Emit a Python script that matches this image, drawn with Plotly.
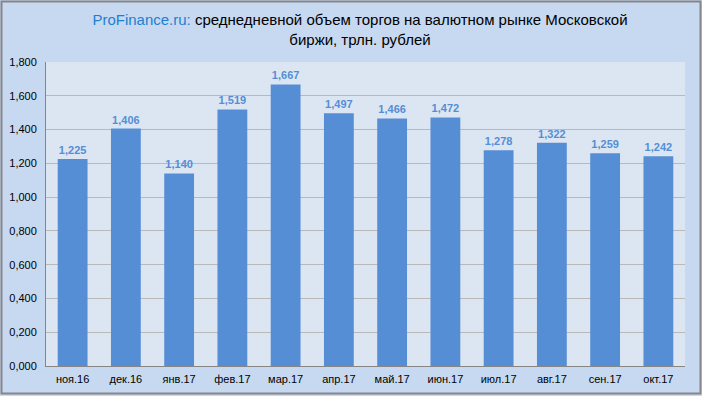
import plotly.graph_objects as go

months = ["ноя.16", "дек.16", "янв.17", "фев.17", "мар.17", "апр.17",
          "май.17", "июн.17", "июл.17", "авг.17", "сен.17", "окт.17"]
volumes = [1225, 1406, 1140, 1519, 1667, 1497, 1466, 1472, 1278, 1322, 1259, 1242]
tick_vals = [0, 200, 400, 600, 800, 1000, 1200, 1400, 1600, 1800]
tick_text = ["0,000", "0,200", "0,400", "0,600", "0,800", "1,000", "1,200", "1,400", "1,600", "1,800"]
labels = ["<b>{:,}</b>".format(v) for v in volumes]

W, H = 702, 396
L, R, T, B = 46, 17, 62, 30
pw, ph = W - L - R, H - T - B

fig = go.Figure(go.Bar(
    x=months, y=volumes, text=labels, textposition="outside",
    textfont=dict(color="#558ed5", size=11, family="Liberation Sans, Arial"),
    marker=dict(color="#558ed5", line=dict(width=0)),
    cliponaxis=False, width=0.56,
))

def px_x(p):
    return (p - L) / pw

def px_y(p):
    return (H - B - p) / ph

fig.update_layout(
    width=W, height=H,
    margin=dict(l=L, r=R, t=T, b=B, pad=0, autoexpand=False),
    paper_bgcolor="#c6d9f0",
    plot_bgcolor="#dce6f2",
    font=dict(family="Liberation Sans, Arial", size=11, color="#000000"),
    showlegend=False,
    title=dict(
        text="<span style='color:#1f7fd0'>ProFinance.ru:</span> среднедневной объем торгов на валютном рынке Московской<br>биржи, трлн. рублей",
        x=(360) / W, xanchor="center", y=1 - 25 / H, yanchor="middle",
        font=dict(size=15, family="Liberation Sans, Arial", color="#000000"),
    ),
    xaxis=dict(showgrid=False, showline=True, linecolor="#868686", linewidth=1,
               ticks="", tickfont=dict(size=11), ticklabelstandoff=3,
               automargin=False, fixedrange=True),
    yaxis=dict(range=[0, 1800], tickvals=tick_vals, ticktext=tick_text,
               showgrid=True, gridcolor="#b9b9b9", gridwidth=1,
               showline=True, linecolor="#868686", linewidth=1,
               zeroline=False, ticks="", tickfont=dict(size=11), ticklabelstandoff=6,
               automargin=False),
    shapes=[dict(type="rect", xref="paper", yref="paper",
                 x0=px_x(1.5), x1=px_x(700.5), y0=px_y(393.5), y1=px_y(1.5),
                 line=dict(color="#868686", width=2), fillcolor="rgba(0,0,0,0)",
                 layer="above")],
)

fig.write_html("out.html", config={"displayModeBar": False},
               post_script="document.body.style.margin='0';document.body.style.background='#ffffff';")
